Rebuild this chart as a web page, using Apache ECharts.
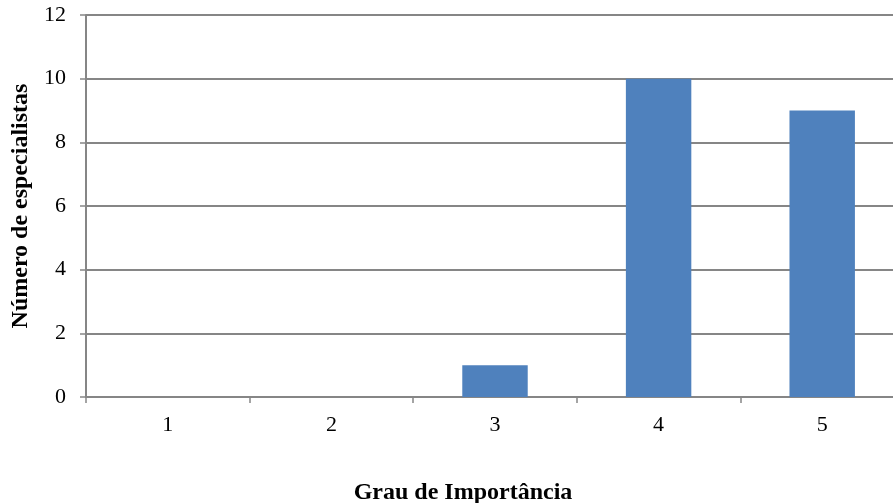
<!DOCTYPE html>
<html>
<head>
<meta charset="utf-8">
<script src="https://cdn.jsdelivr.net/npm/echarts@6/dist/echarts.min.js"></script>
<style>
  html, body { margin: 0; padding: 0; background: #fff; }
  #chart { width: 893px; height: 503px; }
</style>
</head>
<body>
<div id="chart"></div>
<script>
// Importance grades and how many specialists chose each one
const categories = ['1', '2', '3', '4', '5'];
const specialists = [0, 0, 1, 10, 9];
const yTicks = { min: 0, max: 12, interval: 2 };

const serif = '"Liberation Serif", "Times New Roman", serif';
const chart = echarts.init(document.getElementById('chart'));
chart.setOption({
  animation: false,
  grid: {
    left: 86, right: -11, top: 15, bottom: 106,
    containLabel: false,
    outerBoundsMode: 'none'
  },
  xAxis: {
    type: 'category',
    data: categories,
    name: 'Grau de Importância',
    nameLocation: 'middle',
    nameGap: 84,
    // right padding nudges the centred title towards the visible part of the plot
    nameTextStyle: { fontFamily: serif, fontSize: 24, fontWeight: 'bold', color: '#000', padding: [0, 64, 0, 0] },
    axisLine: { lineStyle: { color: '#868686', width: 2 } },
    axisTick: { show: true, alignWithLabel: false, length: 6, lineStyle: { color: '#868686', width: 1.5 } },
    axisLabel: { fontFamily: serif, fontSize: 22, color: '#000', margin: 17 },
    splitLine: { show: false }
  },
  yAxis: {
    type: 'value',
    min: yTicks.min,
    max: yTicks.max,
    interval: yTicks.interval,
    name: 'Número de especialistas',
    nameLocation: 'middle',
    nameGap: 52,
    nameRotate: 90,
    nameTextStyle: { fontFamily: serif, fontSize: 24, fontWeight: 'bold', color: '#000' },
    axisLine: { show: true, lineStyle: { color: '#868686', width: 2 } },
    axisTick: { show: true, length: 6, lineStyle: { color: '#868686', width: 1.5 } },
    axisLabel: { fontFamily: serif, fontSize: 22, color: '#000', margin: 20 },
    splitLine: { show: true, lineStyle: { color: '#868686', width: 2 } }
  },
  series: [{
    type: 'bar',
    data: specialists,
    barWidth: '40%',
    itemStyle: { color: '#4F81BD' }
  }]
});
</script>
</body>
</html>
